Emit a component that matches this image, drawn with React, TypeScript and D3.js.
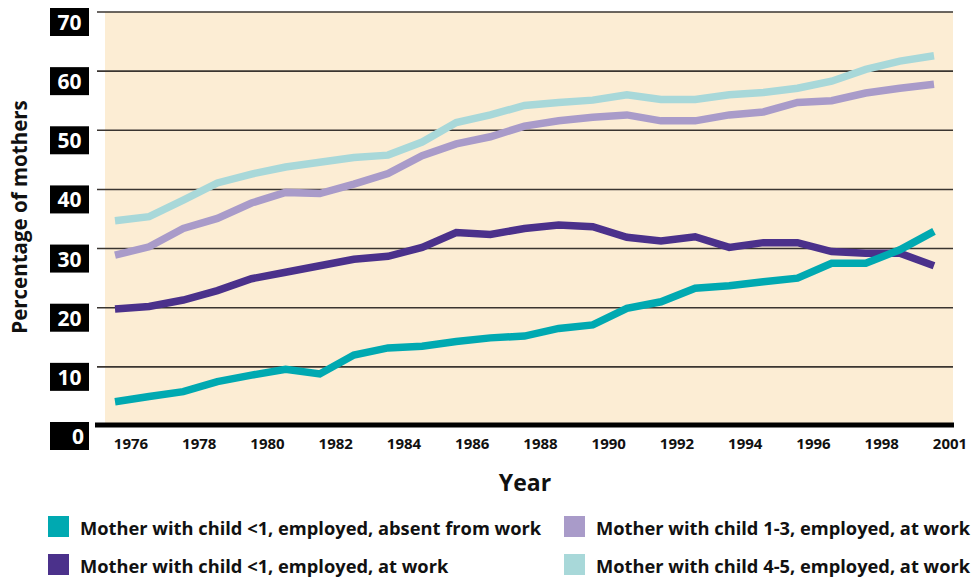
import React from "react";
import * as d3 from "d3";

const years = [1976,1977,1978,1979,1980,1981,1982,1983,1984,1985,1986,1987,1988,1989,1990,1991,1992,1993,1994,1995,1996,1997,1998,1999,2000];

const absentUnder1 = [4.1,5.0,5.8,7.5,8.6,9.6,8.8,12.0,13.2,13.5,14.3,14.9,15.2,16.5,17.1,19.9,21.0,23.3,23.7,24.4,25.0,27.5,27.5,29.8,32.9];
const atWorkUnder1 = [19.8,20.2,21.3,22.9,24.9,26.0,27.1,28.2,28.7,30.2,32.7,32.4,33.4,34.0,33.7,31.9,31.3,32.0,30.2,31.0,31.0,29.5,29.2,29.2,27.1];
const atWork1to3 = [28.9,30.3,33.4,35.1,37.7,39.5,39.3,40.9,42.7,45.7,47.7,48.9,50.7,51.6,52.2,52.6,51.6,51.6,52.6,53.1,54.7,55.0,56.3,57.1,57.8];
const atWork4to5 = [34.7,35.4,38.2,41.1,42.6,43.8,44.6,45.4,45.8,48.0,51.3,52.6,54.2,54.7,55.1,56.0,55.2,55.2,56.0,56.4,57.1,58.3,60.3,61.7,62.6];

const yTicks = [0,10,20,30,40,50,60,70];
const xTickYears = [1976,1978,1980,1982,1984,1986,1988,1990,1992,1994,1996,1998,2000];
const xTickLabels = ["1976","1978","1980","1982","1984","1986","1988","1990","1992","1994","1996","1998","2001"];

const seriesNames = [
  "Mother with child <1, employed, absent from work",
  "Mother with child <1, employed, at work",
  "Mother with child 1-3, employed, at work",
  "Mother with child 4-5, employed, at work",
];
const seriesColors = ["#00a9b1", "#4b318b", "#a99bc9", "#a8d8d9"];

const FONT = "'Open Sans', 'Noto Sans', sans-serif";

export default function App() {
  const x = d3.scaleLinear().domain([1976, 2000]).range([115, 934]);
  const y = d3.scaleLinear().domain([0, 70]).range([426, 12]);
  const line = d3.line<number>().x((_, i) => x(years[i])).y((d) => y(d));
  const seriesData = [absentUnder1, atWorkUnder1, atWork1to3, atWork4to5];
  const drawOrder = [3, 2, 1, 0];

  return (
    <svg width={978} height={581} style={{ position: "absolute", left: 0, top: 0, background: "#fff" }} fontFamily={FONT}>
      <rect x={105} y={y(70)} width={848} height={y(0) - y(70)} fill="#fcedd4" />
      {yTicks.filter((t) => t > 0).map((t) => (
        <line key={t} x1={97} x2={953} y1={y(t)} y2={y(t)} stroke="#3a3530" strokeWidth={1.6} />
      ))}
      {drawOrder.map((si) => (
        <path key={si} d={line(seriesData[si]) || ""} fill="none" stroke={seriesColors[si]} strokeWidth={7.5} strokeLinejoin="miter" strokeLinecap="butt" />
      ))}
      <rect x={95} y={y(0) - 3.5} width={859} height={5} fill="#000" />
      {yTicks.map((t) => (
        <g key={t}>
          <rect x={50} y={y(t) - 4} width={39} height={28} fill="#000" />
          <text x={t === 0 ? 84 : 69.5} y={y(t) + 18} textAnchor={t === 0 ? "end" : "middle"} fill="#fff" fontWeight={700} fontSize={21}>{t}</text>
        </g>
      ))}
      {xTickYears.map((yr, i) => (
        <text key={yr} x={x(yr) + 16} y={449} textAnchor="middle" fontWeight={700} fontSize={15} fill="#111">{xTickLabels[i]}</text>
      ))}
      <text x={525} y={491} textAnchor="middle" fontWeight={700} fontSize={23} fill="#111">Year</text>
      <text transform="translate(27,217) rotate(-90)" textAnchor="middle" fontWeight={700} fontSize={20.5} fill="#111">Percentage of mothers</text>
      {[0, 1, 2, 3].map((si) => {
        const col = si < 2 ? 0 : 1;
        const row = si % 2;
        const lx = col === 0 ? 48 : 564;
        const ly = 516 + row * 38;
        return (
          <g key={si}>
            <rect x={lx} y={ly} width={21} height={21} fill={seriesColors[si]} />
            <text x={lx + 32} y={ly + 19} fontWeight={700} fontSize={18.3} fill="#111">{seriesNames[si]}</text>
          </g>
        );
      })}
    </svg>
  );
}
